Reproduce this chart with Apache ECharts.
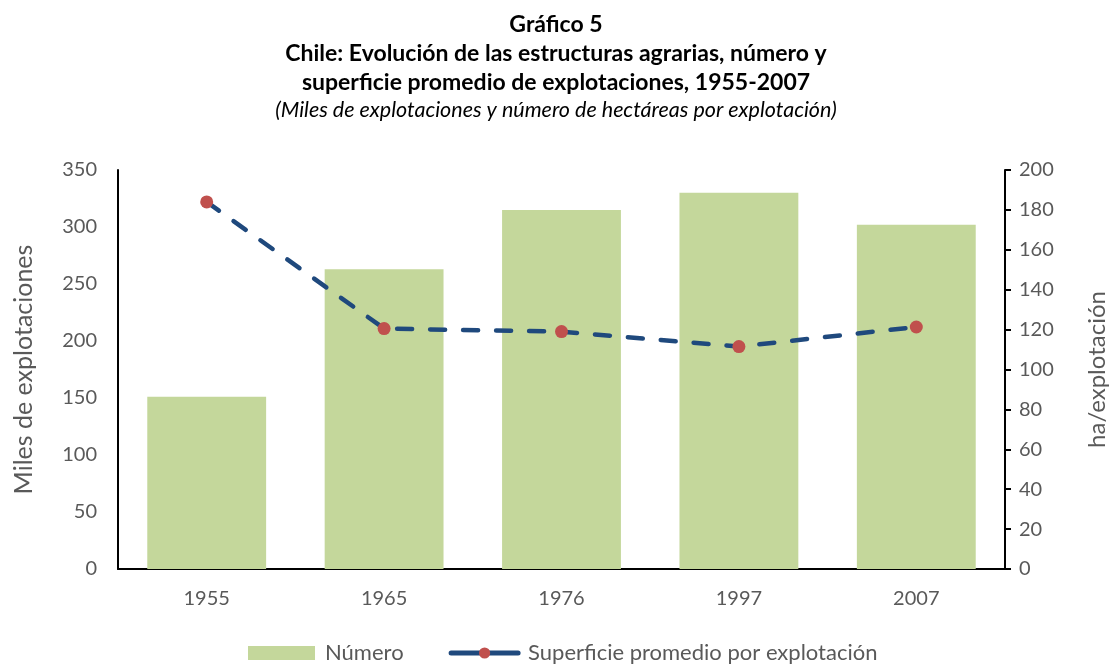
<!DOCTYPE html>
<html>
<head>
<meta charset="utf-8">
<script src="https://cdn.jsdelivr.net/npm/echarts@6/dist/echarts.min.js"></script>
<style>
html,body{margin:0;padding:0;background:#fff;}
#chart{width:1112px;height:664px;}
</style>
</head>
<body>
<div id="chart"></div>
<script>
const categories = ['1955', '1965', '1976', '1997', '2007'];
const numeroValues = [151, 263, 315, 330, 302];
const superficieValues = [184, 120.5, 119, 111.5, 121.3];
const leftTicks = {min: 0, max: 350, interval: 50};
const rightTicks = {min: 0, max: 200, interval: 20};

const FONT = 'Lato, "Open Sans", sans-serif';
const chart = echarts.init(document.getElementById('chart'));
chart.setOption({
  backgroundColor: '#ffffff',
  animation: false,
  title: {
    left: 'center',
    top: 5,
    text: 'Gráfico 5\nChile: Evolución de las estructuras agrarias, número y\nsuperficie promedio de explotaciones, 1955-2007',
    textStyle: {fontFamily: FONT, fontWeight: 'bold', fontSize: 23, color: '#000', lineHeight: 29},
    subtext: '(Miles de explotaciones y número de hectáreas por explotación)',
    subtextStyle: {fontFamily: FONT, fontStyle: 'italic', fontSize: 21.5, color: '#000', lineHeight: 24},
    itemGap: 1
  },
  grid: {left: 118, right: 107, top: 170, bottom: 95, containLabel: false, outerBoundsMode: 'none'},
  legend: {
    top: 637,
    left: 243,
    itemWidth: 67,
    itemHeight: 14,
    itemGap: 45,
    textStyle: {fontFamily: FONT, fontSize: 22, color: '#595959', padding: [0, 0, 0, 5]},
    data: [
      {name: 'Número', icon: 'rect'},
      {name: 'Superficie promedio por explotación', lineStyle: {type: 'solid', width: 5}}
    ]
  },
  xAxis: {
    type: 'category',
    data: categories,
    axisLine: {lineStyle: {color: '#000', width: 2}},
    axisTick: {show: false},
    axisLabel: {fontFamily: FONT, fontSize: 20, color: '#595959', margin: 20}
  },
  yAxis: [
    {
      type: 'value',
      min: leftTicks.min, max: leftTicks.max, interval: leftTicks.interval,
      name: 'Miles de explotaciones',
      nameLocation: 'middle',
      nameGap: 82,
      nameTextStyle: {fontFamily: FONT, fontSize: 25, color: '#595959'},
      axisLine: {show: true, lineStyle: {color: '#000', width: 2}},
      axisTick: {show: false},
      splitLine: {show: false},
      axisLabel: {fontFamily: FONT, fontSize: 20, color: '#595959', margin: 21}
    },
    {
      type: 'value',
      position: 'right',
      min: rightTicks.min, max: rightTicks.max, interval: rightTicks.interval,
      name: 'ha/explotación',
      nameLocation: 'middle',
      nameGap: 80,
      nameRotate: 90,
      nameTextStyle: {fontFamily: FONT, fontSize: 24, color: '#595959'},
      axisLine: {show: true, lineStyle: {color: '#000', width: 2}},
      axisTick: {show: true, length: 6, lineStyle: {color: '#000', width: 2}},
      splitLine: {show: false},
      axisLabel: {fontFamily: FONT, fontSize: 20, color: '#595959', margin: 14}
    }
  ],
  series: [
    {
      name: 'Número',
      type: 'bar',
      yAxisIndex: 0,
      data: numeroValues,
      barCategoryGap: '33%',
      itemStyle: {color: '#C4D79B'}
    },
    {
      name: 'Superficie promedio por explotación',
      type: 'line',
      yAxisIndex: 1,
      data: superficieValues,
      symbol: 'circle',
      symbolSize: 13,
      itemStyle: {color: '#C0504D'},
      lineStyle: {color: '#1F497D', width: 4.5, type: [15, 18], cap: 'round'},
      z: 3
    }
  ]
});
</script>
</body>
</html>
